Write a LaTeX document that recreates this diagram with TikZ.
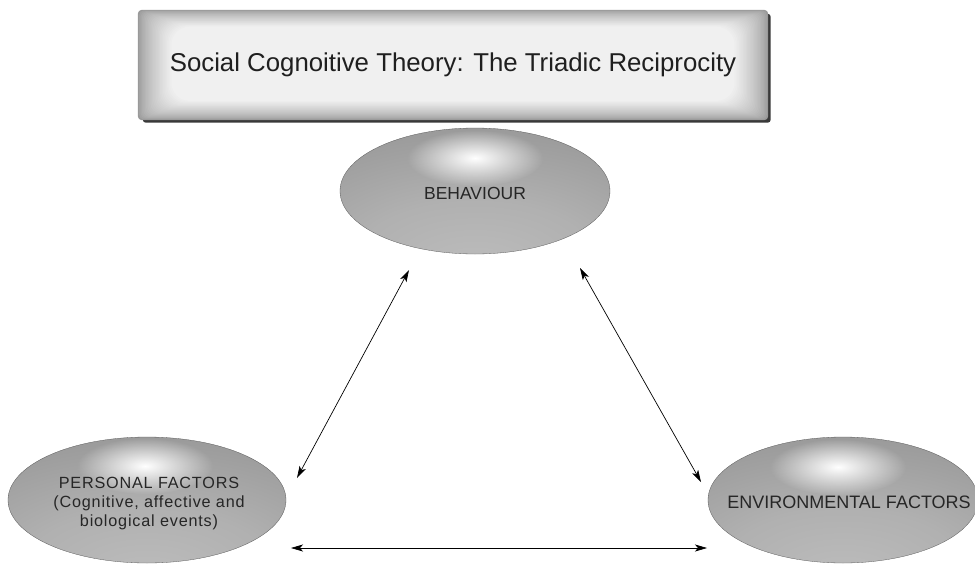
\documentclass[tikz,border=0pt]{standalone}
\usepackage{fontspec}
\setmainfont{Liberation Sans}
\usetikzlibrary{arrows.meta,fadings,backgrounds,calc,shapes.geometric}

% soft grey shading for the ovals, lighter towards the bottom centre
\definecolor{ovallight}{gray}{0.74}
\definecolor{ovalmid}{gray}{0.62}
\definecolor{ovaldark}{gray}{0.48}
\pgfdeclareradialshading{ovalshade}{\pgfpoint{0bp}{-32bp}}{%
  color(0bp)=(ovallight); color(22bp)=(ovallight!60!ovalmid);
  color(55bp)=(ovalmid!60!ovaldark); color(80bp)=(ovaldark); color(110bp)=(ovaldark)}
\tikzfading[name=glowfade, inner color=transparent!0, outer color=transparent!100]

\tikzset{
  oval/.style={ellipse, shading=ovalshade, draw=gray!70!black, line width=0.3pt,
    inner sep=0pt, align=center},
  glow/.style={fill=white, path fading=glowfade},
  link/.style={{Stealth[length=12pt,width=7pt,inset=3pt]}-{Stealth[length=12pt,width=7pt,inset=3pt]},
    line width=0.7pt, black},
  titletext/.style={font=\fontsize{25.8}{30}\selectfont, text=black!88},
  ovaltext/.style={text=black!85, align=center}
}

\begin{document}
\begin{tikzpicture}[x=1pt,y=-1pt]
\useasboundingbox (0,0) rectangle (975,565);

% title panel
\node[titletext, minimum width=630pt, minimum height=110pt, inner sep=0pt]
  (title) at (453,65) {Social Cognoitive Theory: The Triadic Reciprocity};
\begin{scope}[on background layer]
  \fill[gray!45!black, rounded corners=3pt]
    ($(title.north west)+(5,4)$) rectangle ($(title.south east)+(2.5,2.5)$);
  \foreach \i in {0,...,24} {
    \pgfmathsetmacro\c{20+68*(\i/24)^0.7}
    \fill[white!\c!gray, rounded corners={4pt+0.6pt*\i}]
      ($(title.north west)+(1.4*\i,0.7*\i)$) rectangle
      ($(title.south east)+(-1.4*\i,-0.8*\i)$);
  }
\end{scope}

% the three factors
\node[oval, minimum width=270pt, minimum height=126pt] (beh) at (475,191) {};
\node[oval, minimum width=278pt, minimum height=126pt] (pers) at (147,500) {};
\node[oval, minimum width=270pt, minimum height=126pt] (env) at (843,500) {};

\fill[glow] ($(beh.center)+(0,-33)$) ellipse (68pt and 28pt);
\fill[glow] ($(pers.center)+(-2,-34)$) ellipse (68pt and 28pt);
\fill[glow] ($(env.center)+(-5,-33)$) ellipse (68pt and 28pt);

\node[ovaltext, font=\fontsize{17.5}{20}\selectfont] (behlabel) at ($(beh.center)+(0,2)$) {BEHAVIOUR};
\node[ovaltext, font=\fontsize{16.2}{19}\selectfont\addfontfeature{LetterSpace=5}]
  (perslabel) at ($(pers.center)+(2,4)$)
  {PERSONAL FACTORS\\(Cognitive, affective and\\biological events)};
\node[ovaltext, font=\fontsize{18}{21}\selectfont] (envlabel) at ($(env.center)+(6,2)$) {ENVIRONMENTAL FACTORS};

% reciprocal links
\coordinate (bl) at (409,270);
\coordinate (pt) at (297,478);
\coordinate (br) at (580,268);
\coordinate (et) at (701,482);
\coordinate (pr) at (291,548);
\coordinate (el) at (707,548);
\draw[link] (bl) -- (pt);
\draw[link] (br) -- (et);
\draw[link] (pr) -- (el);
\end{tikzpicture}
\end{document}
